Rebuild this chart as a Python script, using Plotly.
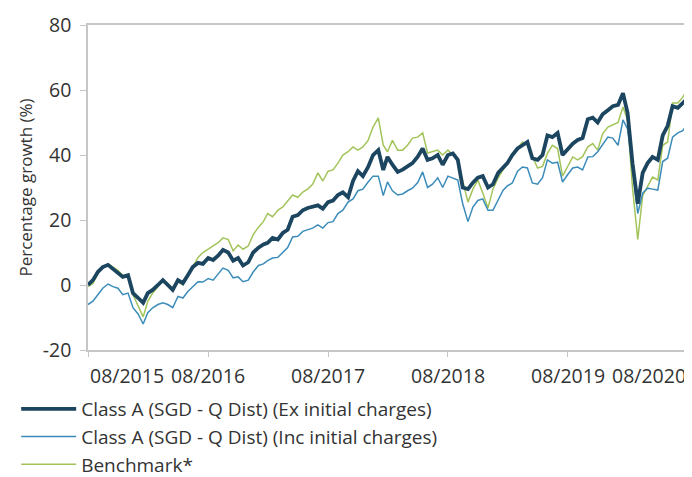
import calendar
import plotly.graph_objects as go

# ---- data (semi-monthly readings, 15th and month-end, Aug 2015 - Aug 2020) ----
def semi_monthly_dates(y0, m0, y1, m1):
    out = []
    y, m = y0, m0
    first = True
    while (y, m) <= (y1, m1):
        last = calendar.monthrange(y, m)[1]
        if not first:
            out.append(f"{y:04d}-{m:02d}-15")
        out.append(f"{y:04d}-{m:02d}-{last:02d}")
        first = False
        m += 1
        if m > 12:
            m = 1
            y += 1
    return out

dates = semi_monthly_dates(2015, 8, 2020, 8)

ex_charges = [
    0, 1.5, 4, 5.5, 6.2, 5, 4, 2.5, 3, -2.5,
    -4, -5.5, -2.5, -1.5, 0, 1.5, 0, -1.5, 1.5, 0.6,
    3, 5.5, 6.8, 6.5, 8.3, 7.7, 9, 10.8, 10, 7.5,
    8.3, 6, 7, 10, 11.5, 12.5, 13, 14.5, 14, 16,
    17, 21, 21.5, 23, 23.7, 24, 24.5, 23.5, 25.5, 26,
    27.7, 28.5, 27, 32, 35, 33.5, 36.3, 40, 41.5, 35.4,
    39.4, 37, 34.8, 35.5, 36.5, 37.5, 39.5, 42, 38.5, 39,
    40, 37, 40, 40.5, 38.5, 30, 29.5, 31.5, 33, 33.5,
    30, 31, 34.5, 36, 37.5, 40, 42, 43, 44, 39,
    38.5, 40, 46, 45.5, 46.8, 40, 42, 43.5, 44.6, 45.2,
    51, 51.5, 50, 52.5, 53.8, 55, 55.4, 59, 53, 37.5,
    25, 34.5, 37.5, 39.4, 38.5, 46, 49, 55, 54.5, 56,
    57.5,
]

inc_charges = [
    -6, -5, -3, -1, 0.3, -0.5, -1, -3, -2.5, -7,
    -9, -12, -8.5, -7, -6, -5.5, -6, -7, -3.5, -4,
    -2, -0.5, 1, 0.9, 2, 1.5, 3.5, 5.2, 4.5, 2.2,
    2.5, 1, 1.5, 4, 6, 6.5, 7.5, 8.3, 8.5, 10,
    11.5, 14.8, 15, 16.5, 17, 17.5, 18.5, 17.5, 19.2, 19.5,
    22, 23, 25.5, 26.5, 29, 29.5, 31.7, 33.5, 33.5, 27.5,
    31.7, 29, 27.7, 28, 29, 29.8, 31.5, 34.8, 30, 31,
    33, 30, 33.5, 33, 32.3, 25, 19.5, 24, 26, 26.5,
    23, 23, 26, 29.2, 30.5, 31.4, 35, 36.3, 36, 31.4,
    31, 33, 38.5, 37.5, 37.8, 31.7, 34, 36, 36.3, 35.4,
    39.4, 39.5, 41, 43, 45.5, 45.2, 43, 50.8, 48, 36,
    22, 28.3, 29.8, 29.5, 29.2, 38, 39, 45.5, 46.8, 47.5,
    49.8,
]

benchmark = [
    -0.5, 0.5, 3.5, 5.5, 6.5, 5.5, 4.5, 3, 2.5, -3,
    -6.5, -9.8, -5, -2.5, -0.5, 1.5, 0.5, -1, 1, 0,
    3, 5.5, 8.5, 10, 11, 12, 13, 14.5, 14, 10.5,
    12.3, 11, 12, 15.5, 17.8, 19.5, 22, 21, 23, 24,
    26, 27.7, 27, 28.6, 29.5, 31, 34.5, 32, 35, 35.4,
    37.5, 40, 41, 42.5, 41.5, 42.5, 44.5, 48.6, 51.4, 43,
    41, 44.5, 41.5, 41.5, 43, 45.2, 45.5, 46.8, 40.6, 41,
    41.5, 40, 41.5, 40, 38.5, 32, 25.5, 29.5, 32.3, 28.3,
    23.7, 29.5, 33, 35.5, 37.5, 40, 42, 44, 43, 39.4,
    36, 36.5, 40.5, 43, 42, 33.5, 36.5, 39.4, 38.5, 39.5,
    42.5, 43.5, 41.5, 46.5, 48.6, 49.2, 50, 54.8, 50.8, 30,
    14, 27.5, 30.5, 33.2, 32.3, 43, 44, 56, 56, 57.8,
    60.6,
]

series_names = [
    "Class A (SGD - Q Dist) (Ex initial charges)",
    "Class A (SGD - Q Dist) (Inc initial charges)",
    "Benchmark*",
]

x_tick_dates = ["2015-08-31", "2016-08-31", "2017-08-31", "2018-08-31", "2019-08-31", "2020-08-31"]
x_tick_labels = ["08/2015", "08/2016", "08/2017", "08/2018", "08/2019", "08/2020"]
y_tick_vals = [-20, 0, 20, 40, 60, 80]
y_tick_labels = ["-20", "0", "20", "40", "60", "80"]

# ---- styles ----
FONT = "Open Sans"
TXT = "#333333"
AXIS = "#c6c6c6"
colors = ["#1c4560", "#3c8cba", "#a3c45a"]
widths = [3.8, 1.5, 1.5]

fig = go.Figure()
order = [2, 1, 0]  # benchmark drawn first, dark line on top
values = [ex_charges, inc_charges, benchmark]
for i in order:
    fig.add_trace(go.Scatter(
        x=dates, y=values[i], mode="lines", name=series_names[i],
        line=dict(color=colors[i], width=widths[i]),
        legendrank=i + 1,
    ))

# page body has an 8px margin, so the figure is sized 8px smaller
fig.update_layout(
    width=684, height=469,
    margin=dict(l=80, r=4, t=17, b=127, autoexpand=False),
    paper_bgcolor="white", plot_bgcolor="white",
    font=dict(family=FONT, size=17, color=TXT),
    showlegend=True,
    legend=dict(
        x=-0.1197, y=-0.123, xanchor="left", yanchor="top",
        orientation="v", traceorder="normal",
        font=dict(family=FONT, size=19, color=TXT),
        bgcolor="rgba(0,0,0,0)", itemwidth=55,
        tracegroupgap=0,
    ),
)

fig.update_xaxes(
    type="date", range=[x_tick_dates[0], x_tick_dates[-1]],
    tickvals=x_tick_dates, showticklabels=False,
    ticks="outside", ticklen=5, tickcolor=AXIS,
    showline=True, linecolor=AXIS, linewidth=1.5, mirror=True,
    showgrid=False, zeroline=False, automargin=False,
)
fig.update_yaxes(
    range=[-20, 80], tickvals=y_tick_vals, ticktext=y_tick_labels,
    ticks="outside", ticklen=6, tickcolor=AXIS,
    showline=True, linecolor=AXIS, linewidth=1.5, mirror=True,
    showgrid=False, zeroline=False, automargin=False,
    tickfont=dict(family=FONT, size=19.5, color=TXT),
    ticklabelstandoff=5,
    title=dict(text="Percentage growth (%)", font=dict(family=FONT, size=17, color=TXT), standoff=6),
)

for k, (d, lab) in enumerate(zip(x_tick_dates, x_tick_labels)):
    if k == 0:
        anc = "left"
    elif k == len(x_tick_dates) - 1:
        anc = "right"
    else:
        anc = "center"
    fig.add_annotation(
        x=d, xref="x", y=-0.03, yref="paper", text=lab, showarrow=False,
        xanchor=anc, yanchor="top", font=dict(family=FONT, size=19.5, color=TXT),
    )

fig.write_html("out.html")
